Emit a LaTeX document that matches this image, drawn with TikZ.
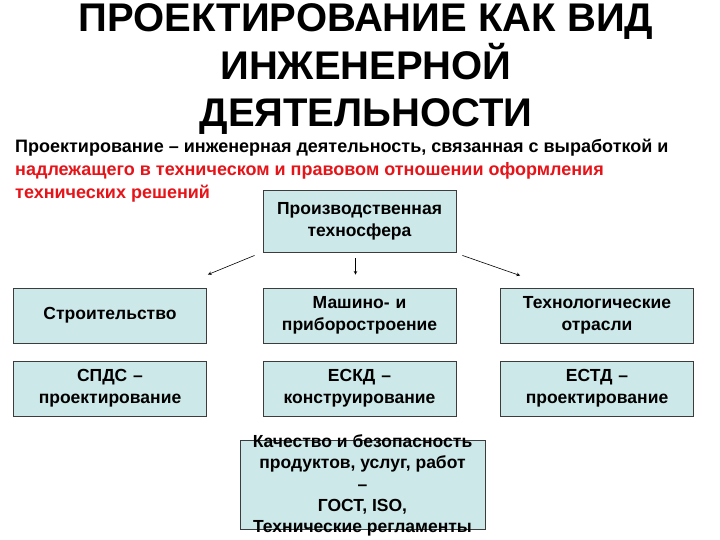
\documentclass[tikz,border=0pt]{standalone}
\usepackage{fontspec}
\setmainfont{Liberation Sans}
\usepackage{xcolor}
\usepackage{tikz}
\definecolor{boxfill}{RGB}{204,232,232}
\definecolor{boxline}{RGB}{60,60,60}
\definecolor{defred}{RGB}{230,20,25}
\tikzset{
box/.style={
  rectangle,draw=boxline,fill=boxfill,line width=0.9pt,
  minimum width=193pt,minimum height=55pt,
  text width=188pt,align=center,inner sep=0pt,
  font=\bfseries\fontsize{17.5}{22}\selectfont
},
arr/.style={->,>=stealth,line width=0.6pt},
}

\begin{document}
\begin{tikzpicture}[x=1pt,y=-1pt]
\useasboundingbox (0,0) rectangle (720,540);
% the heading
\node (title) [anchor=base,inner sep=0pt,font=\bfseries\fontsize{40}{47.5}\selectfont] at (366,32)
  {\parbox[t]{700pt}{\centering\lineskiplimit=-100pt
   ПРОЕКТИРОВАНИЕ КАК ВИД\\ИНЖЕНЕРНОЙ\\ДЕЯТЕЛЬНОСТИ}};
\node (def) [anchor=north west,align=left,inner sep=0pt,
  font=\bfseries\fontsize{18}{23}\selectfont] at (15,139)
  {Проектирование – инженерная деятельность, связанная с выработкой и\\
   \textcolor{defred}{надлежащего в техническом и правовом отношении оформления}\\
   \textcolor{defred}{технических решений}};
% the boxes
\node (sphere) [box,minimum height=62pt] at (359.5,221) {Производственная\\техносфера};
\node (build)  [box] at (110,315.5) {Строительство};
\node (mach)   [box] at (359.5,315.5) {Машино- и\\приборостроение};
\node (tech)   [box] at (597,315.5) {Технологические\\отрасли};
\node (spds)   [box] at (110,388.5) {СПДС –\\проектирование};
\node (eskd)   [box] at (359.5,388.5) {ЕСКД –\\конструирование};
\node (estd)   [box] at (597,388.5) {ЕСТД –\\проектирование};
\node (qual)   [box,minimum width=245pt,minimum height=89pt] at (362.5,484.5) {};
\node (qualtext) [align=center,inner sep=0pt,
  font=\bfseries\fontsize{17.5}{21.3}\selectfont] at ([yshift=-1pt]qual.center)
  {Качество и безопасность\\ продуктов, услуг, работ\\–\\ГОСТ, ISO,\\Технические регламенты};
% the arrows
\draw[arr] ([xshift=-8pt,yshift=-3pt]sphere.south west) -- ([xshift=1pt,yshift=13pt]build.north east);
\draw[arr] ([xshift=-4pt,yshift=-6pt]sphere.south) -- ([xshift=-4pt,yshift=13pt]mach.north);
\draw[arr] ([xshift=6pt,yshift=-3pt]sphere.south east) -- ([xshift=20pt,yshift=12pt]tech.north west);
\end{tikzpicture}
\end{document}
